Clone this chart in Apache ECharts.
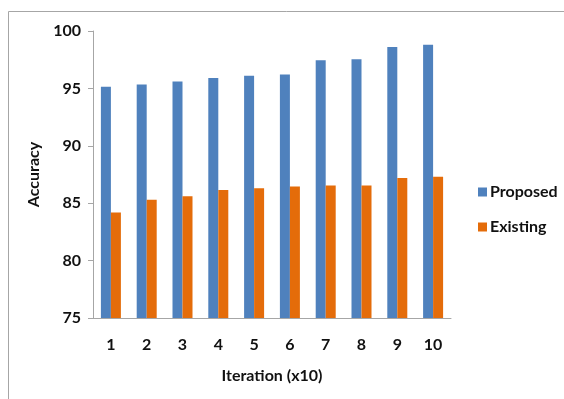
<!DOCTYPE html>
<html><head><meta charset="utf-8">
<script src="https://cdn.jsdelivr.net/npm/echarts@6/dist/echarts.min.js"></script>
<style>html,body{margin:0;padding:0;background:#fff}#c{width:564px;height:399px}</style>
</head><body><div id="c"></div>
<script>
const categories = ['1','2','3','4','5','6','7','8','9','10'];
const proposed = [95.15, 95.35, 95.6, 95.9, 96.1, 96.2, 97.45, 97.55, 98.6, 98.8];
const existing = [84.2, 85.3, 85.6, 86.15, 86.3, 86.45, 86.55, 86.55, 87.2, 87.3];
const seriesNames = ['Proposed', 'Existing'];
const yMin = 75, yMax = 100, yStep = 5;

const font = 'Lato';
const txt = {fontFamily: font, fontWeight: 'bold', fontSize: 16, color: '#111'};
const chart = echarts.init(document.getElementById('c'), null, {renderer: 'canvas'});
chart.setOption({
  animation: false,
  backgroundColor: '#fff',
  graphic: [
    {type: 'line', shape: {x1: 8.5, y1: 11.5, x2: 564, y2: 11.5}, style: {stroke: '#a6a6a6', lineWidth: 1}},
    {type: 'line', shape: {x1: 8.5, y1: 11.5, x2: 8.5, y2: 399}, style: {stroke: '#a6a6a6', lineWidth: 1}}
  ],
  grid: {left: 93, right: 113, top: 31, bottom: 81, containLabel: false},
  legend: {
    orient: 'vertical', left: 473, top: 179, itemGap: 19,
    itemWidth: 9, itemHeight: 9, icon: 'rect',
    textStyle: Object.assign({}, txt, {padding: [0,0,0,-2]}),
    data: seriesNames
  },
  xAxis: {
    type: 'category', data: categories,
    name: 'Iteration (x10)', nameLocation: 'middle', nameGap: 50,
    nameTextStyle: txt,
    axisLine: {lineStyle: {color: '#a6a6a6', width: 1}},
    axisTick: {show: false},
    axisLabel: Object.assign({}, txt, {margin: 19})
  },
  yAxis: {
    type: 'value', min: yMin, max: yMax, interval: yStep,
    name: 'Accuracy', nameLocation: 'middle', nameGap: 50,
    nameTextStyle: txt,
    axisLine: {show: true, lineStyle: {color: '#a6a6a6', width: 1}},
    axisTick: {show: true, length: 5, lineStyle: {color: '#a6a6a6'}},
    splitLine: {show: false},
    axisLabel: Object.assign({}, txt, {margin: 12})
  },
  series: [
    {name: seriesNames[0], type: 'bar', data: proposed, barWidth: 10, barGap: '0%',
     itemStyle: {color: '#4f81bd'}},
    {name: seriesNames[1], type: 'bar', data: existing, barWidth: 10, barGap: '0%',
     itemStyle: {color: '#e46c0a'}}
  ]
});
</script></body></html>
